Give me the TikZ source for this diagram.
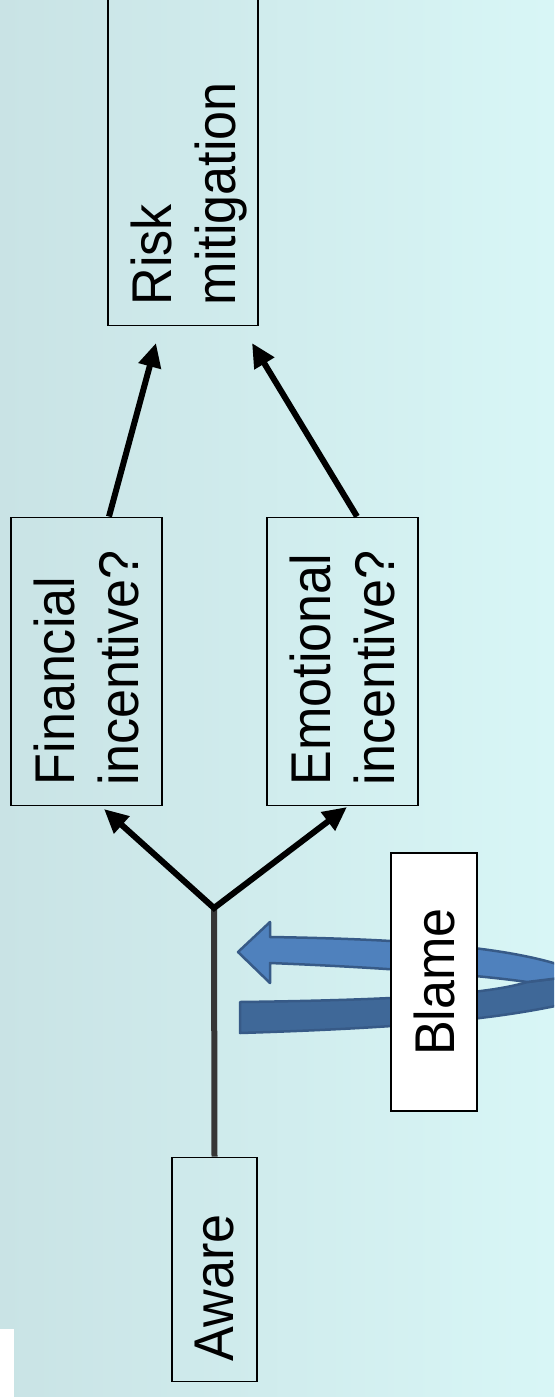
\documentclass[tikz,border=0pt]{standalone}
\usepackage{fontspec}
\setmainfont{Liberation Sans}[FakeStretch=0.93]
\usetikzlibrary{arrows.meta}

\definecolor{bgleft}{HTML}{C9E3E5}
\definecolor{bgright}{HTML}{D8F6F6}
\definecolor{blametop}{HTML}{4F81BD}
\definecolor{blamelow}{HTML}{3F6898}
\definecolor{blameedge}{HTML}{375A87}
\definecolor{trunkgray}{HTML}{363636}

\begin{document}
\begin{tikzpicture}[
    x=1pt, y=-1pt,
    stage/.style={rectangle, draw, line width=1.5pt, rotate=90, anchor=west, align=left,
        inner xsep=20pt, font=\fontsize{56}{63.5}\selectfont},
    flow/.style={line width=6pt},
    ribbon/.style={draw=blameedge, line width=2.5pt, line join=round},
    >={Triangle[length=24pt,width=22pt]}
]
    \useasboundingbox (0,0) rectangle (554,1397);
    \clip (0,0) rectangle (554,1397);

    % Background
    \fill[left color=bgleft, right color=bgright] (0,0) rectangle (554,1397);
    \fill[white] (0,1329) rectangle (14,1397);

    % Blame loop
    \draw[ribbon, fill=blamelow] (240,1002) .. controls (400,1000) and (490,994) .. (527,982) -- (560,978)
        -- (560,1005) .. controls (490,1020) and (400,1028) .. (240,1033) -- cycle;
    \draw[ribbon, fill=blametop] (238,952) -- (270,922) -- (270,937)
        .. controls (400,939) and (500,946) .. (560,965) -- (560,978) -- (527,982)
        .. controls (500,978) and (420,969) .. (270,963) -- (270,983) -- cycle;

    % Stages
    \node[stage, text width=420pt, minimum height=150pt, text depth=63.5pt] (risk) at (183,326) {Risk\\mitigation};
    \node[stage, text width=248pt, minimum height=151pt] (fin) at (86.5,806) {Financial\\incentive?};
    \node[stage, text width=248pt, minimum height=151pt] (emo) at (342.5,806) {Emotional\\incentive?};
    \node[stage, text width=184pt, minimum height=85pt] (aware) at (214.5,1382) {Aware};
    \node[stage, anchor=center, align=center, fill=white, minimum width=258pt, minimum height=86pt]
        (blame) at (434,982) {Blame};

    % Flows
    \coordinate (fork) at (214,908);
    \draw[flow, trunkgray] (fork) -- (aware.east);
    \draw[flow, <->] ([xshift=17.5pt,yshift=-3pt]fin.west) -- (fork) -- ([xshift=4.5pt,yshift=-1pt]emo.west);
    \draw[flow, ->] ([xshift=22.5pt]fin.east) -- ([xshift=-27pt,yshift=-17pt]risk.west);
    \draw[flow, ->] ([xshift=14.5pt]emo.east) -- ([xshift=69pt,yshift=-17pt]risk.west);

\end{tikzpicture}
\end{document}
